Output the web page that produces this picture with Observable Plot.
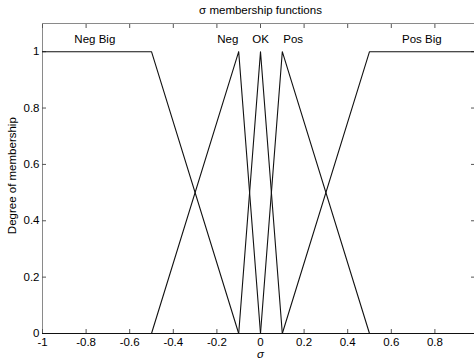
<!DOCTYPE html>
<html>
<head>
<meta charset="utf-8">
<script src="https://cdn.jsdelivr.net/npm/d3@7"></script>
<script src="https://cdn.jsdelivr.net/npm/@observablehq/plot@0.6"></script>
<style>
  html, body { margin: 0; padding: 0; background: white; }
  #wrap { width: 474px; height: 361px; overflow: hidden; }
</style>
</head>
<body>
<div id="wrap"></div>
<script>
const titleText = "σ membership functions";
const xLabel = "σ";
const yLabel = "Degree of membership";
const xTicks = [-1, -0.8, -0.6, -0.4, -0.2, 0, 0.2, 0.4, 0.6, 0.8, 1];
const xTickLabels = ["-1", "-0.8", "-0.6", "-0.4", "-0.2", "0", "0.2", "0.4", "0.6", "0.8", ""];
const yTicks = [0, 0.2, 0.4, 0.6, 0.8, 1];
const yTickLabels = ["0", "0.2", "0.4", "0.6", "0.8", "1"];

const mfNames = ["Neg Big", "Neg", "OK", "Pos", "Pos Big"];
const negBigX = [-1, -0.5, -0.1, 1];
const negBigY = [1, 1, 0, 0];
const negX = [-1, -0.5, -0.1, 0, 1];
const negY = [0, 0, 1, 0, 0];
const okX = [-1, -0.1, 0, 0.1, 1];
const okY = [0, 0, 1, 0, 0];
const posX = [-1, 0, 0.1, 0.5, 1];
const posY = [0, 0, 1, 0, 0];
const posBigX = [-1, 0.1, 0.5, 1];
const posBigY = [0, 0, 1, 1];
const labelX = [-0.76, -0.15, 0, 0.15, 0.74];
const labelY = [1.045, 1.045, 1.045, 1.045, 1.045];

const series = [
  [negBigX, negBigY], [negX, negY], [okX, okY], [posX, posY], [posBigX, posBigY]
];
const lineData = series.flatMap(([xs, ys], i) =>
  xs.map((x, j) => ({ mf: mfNames[i], x, y: ys[j] })));
const labels = mfNames.map((name, i) => ({ name, x: labelX[i], y: labelY[i] }));

const xFmt = d => xTickLabels[xTicks.indexOf(d)] ?? "";
const yFmt = d => yTickLabels[yTicks.indexOf(d)] ?? "";
const blank = () => "";
const font = "Liberation Sans, Arial, Helvetica, sans-serif";

const chart = Plot.plot({
  width: 474,
  height: 361,
  marginTop: 23,
  marginBottom: 28,
  marginLeft: 42,
  marginRight: 0,
  style: { fontFamily: font, fontSize: "11px", color: "black", background: "white", overflow: "visible" },
  x: { domain: [-1, 1], range: [42, 478] },
  y: { domain: [0, 1.1] },
  marks: [
    Plot.frame({ stroke: "#8a8a8a" }),
    Plot.axisX(xTicks, { anchor: "bottom", tickSize: -4, tickFormat: xFmt, tickPadding: 8, fontSize: 11.5, stroke: "#555", label: null }),
    Plot.axisX(xTicks, { anchor: "top", tickSize: -4, tickFormat: blank, stroke: "#555", label: null }),
    Plot.axisY(yTicks, { anchor: "left", tickSize: -4, tickFormat: yFmt, tickPadding: 7, fontSize: 11.5, stroke: "#555", label: null }),
    Plot.axisY(yTicks, { anchor: "right", tickSize: -4, tickFormat: blank, stroke: "#555", label: null }),
    Plot.ruleY([0], { stroke: "black" }),
    Plot.line(lineData, { x: "x", y: "y", z: "mf", stroke: "#111", strokeWidth: 1.1 }),
    Plot.text(labels, { x: "x", y: "y", text: "name", fontSize: 11.5, fill: "black" }),
    Plot.text([titleText], { frameAnchor: "top", x: 0, dy: -13, lineAnchor: "middle", fontSize: 11.5, fill: "black" }),
    Plot.text([xLabel], { frameAnchor: "bottom", x: 0, dy: 21, lineAnchor: "middle", fontSize: 11.5, fontStyle: "italic", fill: "black" }),
    Plot.text([yLabel], { frameAnchor: "left", y: 0.56, dx: -30, rotate: -90, textAnchor: "middle", lineAnchor: "middle", fontSize: 11.5, fill: "black" })
  ]
});
document.getElementById("wrap").appendChild(chart);
</script>
</body>
</html>
